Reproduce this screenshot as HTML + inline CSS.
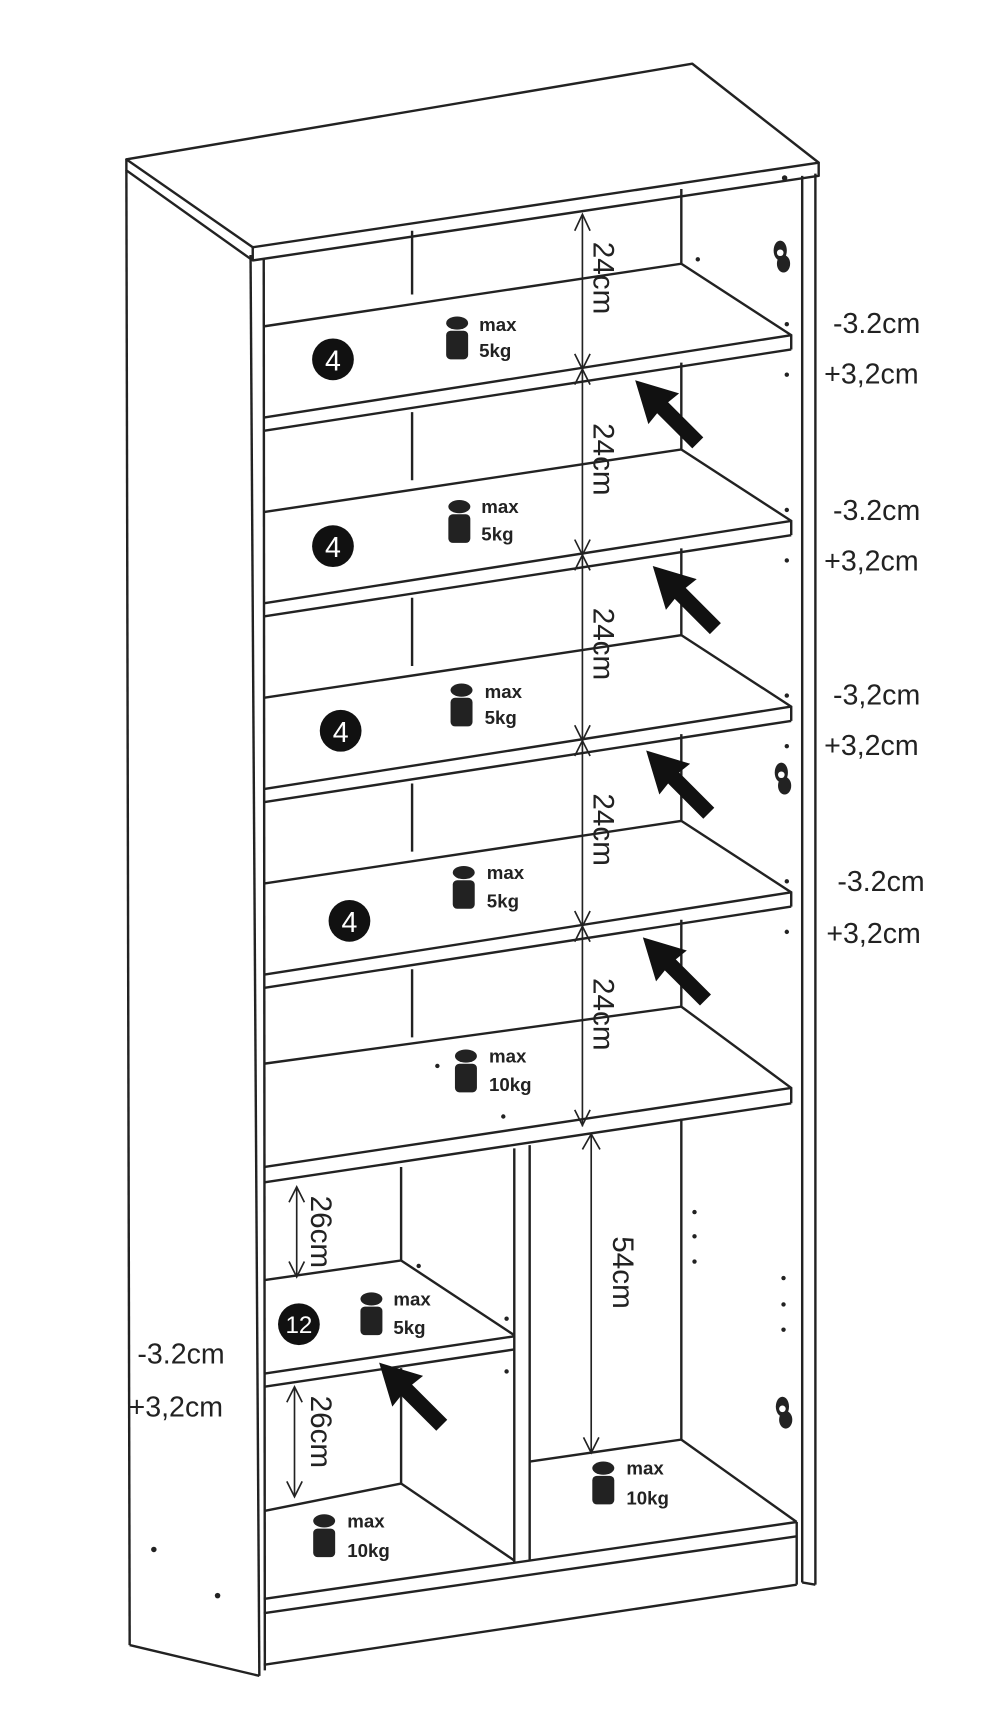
<!DOCTYPE html>
<html><head><meta charset="utf-8"><style>
html,body{margin:0;padding:0;background:#fff}
svg{display:block}
text{font-family:"Liberation Sans",sans-serif;fill:#222}
</style></head><body>
<svg width="1000" height="1722" viewBox="0 0 910 1567" preserveAspectRatio="none" xmlns="http://www.w3.org/2000/svg">
<defs>
<g id="wt"><ellipse cx="12" cy="6" rx="10" ry="6" fill="#222"/><rect x="2" y="13" width="20" height="26" rx="4" fill="#222"/></g>
<g id="arr"><polygon points="0,0 40,12 30,20 62,52 52,62 20,30 12,40" fill="#111"/></g>
<g id="hinge"><ellipse cx="0" cy="0" rx="6" ry="9" fill="#222"/><ellipse cx="3" cy="12" rx="6" ry="8" fill="#222"/><circle cx="0" cy="2" r="3" fill="#fff"/></g>
</defs>
<g fill="none" stroke="#222" stroke-width="2.2" stroke-linejoin="round">
<!-- top -->
<polygon points="115,145 630,58 745,148 230,225" fill="#fff"/>
<polyline points="115,145 115,155 230,237 745,160 745,148"/>
<line x1="230" y1="225" x2="230" y2="237"/>
<!-- left side -->
<line x1="115" y1="155" x2="118" y2="1497"/>
<line x1="118" y1="1497" x2="236" y2="1525"/>
<line x1="228" y1="232" x2="236" y2="1525"/>
<line x1="240" y1="236" x2="241" y2="1520"/>
<!-- right side -->
<line x1="730" y1="160" x2="730" y2="1440"/>
<line x1="742" y1="158" x2="742" y2="1442"/>
<line x1="730" y1="1440" x2="742" y2="1442"/>
<!-- top compartment back -->
<line x1="375" y1="210" x2="375" y2="268"/>
<line x1="620" y1="172" x2="620" y2="240"/>
</g>
<!-- shelves -->
<g id="sh" fill="none" stroke="#222" stroke-width="2.2">
<polyline points="240,297 620,240 720,305 720,318"/>
<line x1="240" y1="380" x2="720" y2="305"/>
<line x1="240" y1="392" x2="720" y2="318"/>
<line x1="375" y1="375" x2="375" y2="437"/>
<line x1="620" y1="330" x2="620" y2="409"/>
</g>
<use href="#sh" transform="translate(0,169)"/>
<use href="#sh" transform="translate(0,338)"/>
<use href="#sh" transform="translate(0,507)"/>
<g fill="none" stroke="#222" stroke-width="2.2">
<!-- fixed shelf -->
<polyline points="240,968 620,916 720,990 720,1004"/>
<line x1="240" y1="1062" x2="720" y2="990"/>
<line x1="240" y1="1076" x2="720" y2="1004"/>
<!-- lower left -->
<line x1="365" y1="1062" x2="365" y2="1147"/>
<polyline points="240,1165 365,1147 468,1215"/>
<line x1="240" y1="1250" x2="468" y2="1216"/>
<line x1="240" y1="1262" x2="468" y2="1228"/>
<line x1="365" y1="1245" x2="365" y2="1350"/>
<polyline points="240,1375 365,1350 468,1420"/>
<!-- divider -->
<line x1="468" y1="1045" x2="468" y2="1422"/>
<line x1="482" y1="1042" x2="482" y2="1420"/>
<!-- lower right -->
<line x1="620" y1="1018" x2="620" y2="1310"/>
<polyline points="482,1330 620,1310 725,1385"/>
<!-- base -->
<line x1="240" y1="1455" x2="725" y2="1385"/>
<line x1="240" y1="1468" x2="725" y2="1398"/>
<line x1="240" y1="1515" x2="725" y2="1442"/>
<line x1="725" y1="1385" x2="725" y2="1442"/>
<!-- dimension lines -->
<line x1="530" y1="195" x2="530" y2="1025" stroke-width="1.5"/>
<line x1="538" y1="1032" x2="538" y2="1322" stroke-width="1.5"/>
<line x1="270" y1="1080" x2="270" y2="1162" stroke-width="1.5"/>
<line x1="268" y1="1262" x2="268" y2="1362" stroke-width="1.5"/>
<g stroke-width="1.5">
<polyline points="523,210 530,195 537,210"/>
<polyline points="523,322 530,336 537,322"/><polyline points="523,350 530,336 537,350"/>
<polyline points="523,491 530,505 537,491"/><polyline points="523,519 530,505 537,519"/>
<polyline points="523,660 530,674 537,660"/><polyline points="523,688 530,674 537,688"/>
<polyline points="523,829 530,843 537,829"/><polyline points="523,857 530,843 537,857"/>
<polyline points="523,1010 530,1024 537,1010"/>
<polyline points="530,1046 538,1032 546,1046"/><polyline points="531,1308 538,1322 545,1308"/>
<polyline points="263,1094 270,1080 277,1094"/><polyline points="263,1148 270,1162 277,1148"/>
<polyline points="261,1276 268,1262 275,1276"/><polyline points="261,1348 268,1362 275,1348"/>
</g>
</g>
<!-- dim labels -->
<g font-size="27">
<text transform="translate(540,220) rotate(90)">24cm</text>
<text transform="translate(540,385) rotate(90)">24cm</text>
<text transform="translate(540,553) rotate(90)">24cm</text>
<text transform="translate(540,722) rotate(90)">24cm</text>
<text transform="translate(540,890) rotate(90)">24cm</text>
<text transform="translate(558,1125) rotate(90)">54cm</text>
<text transform="translate(283,1088) rotate(90)">26cm</text>
<text transform="translate(283,1270) rotate(90)">26cm</text>
</g>
<!-- arrows -->
<use href="#arr" x="578" y="346"/>
<use href="#arr" x="594" y="515"/>
<use href="#arr" x="588" y="683"/>
<use href="#arr" x="585" y="853"/>
<use href="#arr" x="345" y="1240"/>
<!-- circles -->
<g font-size="26" text-anchor="middle">
<circle cx="303" cy="327" r="19" fill="#111"/><text x="303" y="337" style="fill:#fff">4</text>
<circle cx="303" cy="497" r="19" fill="#111"/><text x="303" y="507" style="fill:#fff">4</text>
<circle cx="310" cy="665" r="19" fill="#111"/><text x="310" y="675" style="fill:#fff">4</text>
<circle cx="318" cy="838" r="19" fill="#111"/><text x="318" y="848" style="fill:#fff">4</text>
<circle cx="272" cy="1205" r="19" fill="#111"/><text x="272" y="1213" font-size="22" style="fill:#fff">12</text>
</g>
<!-- weights -->
<g font-size="17" font-weight="bold">
<use href="#wt" x="404" y="288"/><text x="436" y="301">max</text><text x="436" y="325">5kg</text>
<use href="#wt" x="406" y="455"/><text x="438" y="467">max</text><text x="438" y="492">5kg</text>
<use href="#wt" x="408" y="622"/><text x="441" y="635">max</text><text x="441" y="659">5kg</text>
<use href="#wt" x="410" y="788"/><text x="443" y="800">max</text><text x="443" y="826">5kg</text>
<use href="#wt" x="412" y="955"/><text x="445" y="967">max</text><text x="445" y="993">10kg</text>
<use href="#wt" x="326" y="1176"/><text x="358" y="1188">max</text><text x="358" y="1214">5kg</text>
<use href="#wt" x="283" y="1378"/><text x="316" y="1390">max</text><text x="316" y="1417">10kg</text>
<use href="#wt" x="537" y="1330"/><text x="570" y="1342">max</text><text x="570" y="1369">10kg</text>
</g>
<!-- side labels -->
<g font-size="26">
<text x="758" y="303">-3.2cm</text><text x="750" y="349">+3,2cm</text>
<text x="758" y="473">-3.2cm</text><text x="750" y="519">+3,2cm</text>
<text x="758" y="641">-3,2cm</text><text x="750" y="687">+3,2cm</text>
<text x="762" y="811">-3.2cm</text><text x="752" y="858">+3,2cm</text>
<text x="125" y="1241">-3.2cm</text><text x="117" y="1289">+3,2cm</text>
</g>
<!-- hinges & dots -->
<use href="#hinge" x="710" y="228"/>
<use href="#hinge" x="711" y="703"/>
<use href="#hinge" x="712" y="1280"/>
<g fill="#222">
<circle cx="714" cy="162" r="2.5"/><circle cx="635" cy="236" r="2"/>
<circle cx="716" cy="295" r="2"/><circle cx="716" cy="341" r="2"/>
<circle cx="716" cy="464" r="2"/><circle cx="716" cy="510" r="2"/>
<circle cx="716" cy="633" r="2"/><circle cx="716" cy="679" r="2"/>
<circle cx="716" cy="802" r="2"/><circle cx="716" cy="848" r="2"/>
<circle cx="398" cy="970" r="2"/><circle cx="458" cy="1016" r="2"/>
<circle cx="632" cy="1103" r="2"/><circle cx="632" cy="1125" r="2"/><circle cx="632" cy="1148" r="2"/>
<circle cx="713" cy="1163" r="2"/><circle cx="713" cy="1187" r="2"/><circle cx="713" cy="1210" r="2"/>
<circle cx="381" cy="1152" r="2"/><circle cx="461" cy="1200" r="2"/><circle cx="461" cy="1248" r="2"/>
<circle cx="140" cy="1410" r="2.5"/><circle cx="198" cy="1452" r="2.5"/>
</g>
</svg>
</body></html>
